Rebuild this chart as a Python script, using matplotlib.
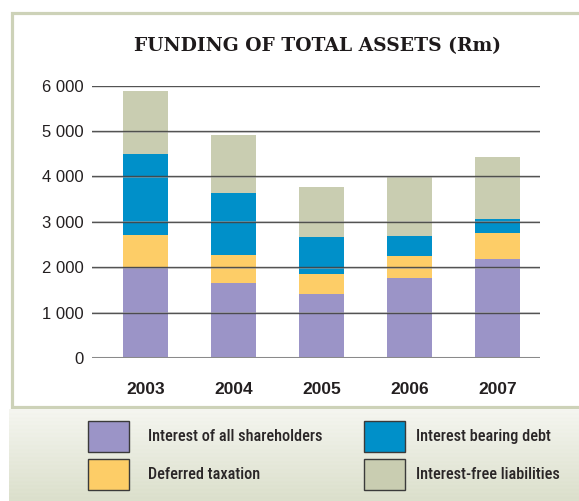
import matplotlib
matplotlib.use("Agg")
import matplotlib.pyplot as plt
from matplotlib.patches import Rectangle
import numpy as np

years = ["2003", "2004", "2005", "2006", "2007"]
shareholders = [2000, 1655, 1412, 1765, 2190]
deferred_tax = [710, 615, 441, 485, 575]
interest_debt = [1790, 1370, 816, 441, 288]
interest_free = [1390, 1280, 1103, 1287, 1381]
series_labels = ["Interest of all shareholders", "Deferred taxation",
                 "Interest bearing debt", "Interest-free liabilities"]
series_colors = ["#9b94c7", "#fdcd67", "#0090c9", "#c9cdb1"]
y_ticks = [0, 1000, 2000, 3000, 4000, 5000, 6000]
y_tick_labels = ["0", "1 000", "2 000", "3 000", "4 000", "5 000", "6 000"]
title = "FUNDING OF TOTAL ASSETS (Rm)"

W, H = 579, 501
fig = plt.figure(figsize=(W / 100, H / 100), dpi=100)
fig.patch.set_facecolor("white")

legend_family = ["Roboto Condensed", "Liberation Sans", "DejaVu Sans"]

def fx(px):
    return px / W

def fy(py):
    return 1 - py / H

# outer frame (open to the right)
frame = Rectangle((fx(11.5), fy(407)), fx(700), (407 - 13) / H, transform=fig.transFigure,
                  facecolor="white", edgecolor="#cdd2b8", linewidth=2.3, zorder=0)
fig.patches.append(frame)

# legend band with gradient
lax = fig.add_axes([fx(9), 0, 1 - fx(9), (H - 409) / H], zorder=1)
rows = H - 409
grad = np.linspace(0, 1, rows)
stripes = (np.arange(rows) % 4 < 2) * 0.04
vals = np.clip(grad + stripes, 0, 1)
top = np.array([0.962, 0.965, 0.945])
bot = np.array([0.862, 0.878, 0.800])
img = top[None, :] + (bot - top)[None, :] * vals[:, None]
lax.imshow(np.repeat(img[:, None, :], 4, axis=1), aspect="auto", extent=[0, 1, 0, 1], origin="upper")
lax.set_axis_off()

# main axes
left, right = 92, 540
bottom, top6 = 358, 85.7
ax = fig.add_axes([fx(left), fy(bottom), (right - left) / W, (bottom - top6) / H], zorder=2)
ax.set_facecolor("none")
x = np.arange(len(years))
width = 45 / 88
base = np.zeros(len(years))
for vals_s, col, lab in zip([shareholders, deferred_tax, interest_debt, interest_free], series_colors, series_labels):
    ax.bar(x, vals_s, width, bottom=base, color=col, label=lab, zorder=1, linewidth=0)
    base = base + np.array(vals_s)

for t in y_ticks:
    if t == 0:
        ax.axhline(t, color="#8a8a8a", linewidth=2.2, zorder=3)
    else:
        ax.axhline(t - 10, color="#b4b4b4", linewidth=1.2, zorder=2, alpha=0.6)
        ax.axhline(t, color="#3c3c3c", linewidth=1.0, zorder=3, alpha=0.85)

ax.set_xlim(-(145.5 - left) / 88, 4 + (right - 497.5) / 88)
ax.set_ylim(0, 6000)
ax.set_yticks(y_ticks)
ax.set_yticklabels(y_tick_labels, fontsize=12, family=["Liberation Sans", "DejaVu Sans"], color="#231f20")
ax.set_xticks(x)
ax.set_xticklabels(years, fontsize=12.5, fontweight="bold", family=["Liberation Sans", "DejaVu Sans"], color="#231f20")
ax.tick_params(axis="y", length=0, pad=6)
ax.tick_params(axis="x", length=0, pad=17)
for s in ax.spines.values():
    s.set_visible(False)

fig.text(fx(318), fy(46), title, ha="center", va="center", fontsize=13.5, fontweight="bold",
         family=["DejaVu Serif", "Liberation Serif"], color="#1e1a1b")

# legend
box_pos = [(88, 420.7), (88, 458.7), (364, 420.7), (364, 458.7)]
text_x = [148, 148, 415.7, 415.7]
for (bx, by), tx, col, lab in zip(box_pos, text_x, series_colors, series_labels):
    r = Rectangle((fx(bx), fy(by + 31.5)), 41 / W, 31.5 / H, transform=fig.transFigure,
                  facecolor=col, edgecolor="#3a3a3a", linewidth=1.0, zorder=5)
    fig.patches.append(r)
    fig.text(fx(tx), fy(by + 16), lab, ha="left", va="center", fontsize=11.7, fontweight="medium",
             family=legend_family, color="#2a2627", zorder=6)

fig.savefig("out.png", dpi=100, facecolor="white")
